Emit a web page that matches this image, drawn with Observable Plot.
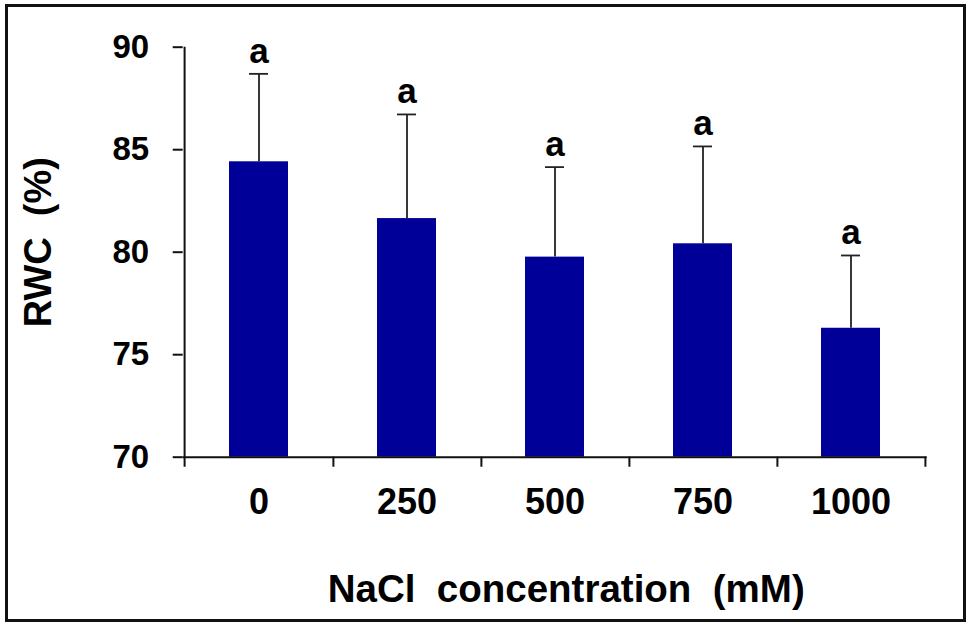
<!DOCTYPE html>
<html>
<head>
<meta charset="utf-8">
<script src="https://cdn.jsdelivr.net/npm/d3@7"></script>
<script src="https://cdn.jsdelivr.net/npm/@observablehq/plot@0.6"></script>
<style>
  html, body { margin: 0; padding: 0; background: #fff; }
  #wrap { position: relative; width: 976px; height: 630px; overflow: hidden; }
  #wrap svg { position: absolute; left: 0; top: 0; }
  #wrap svg text { white-space: pre; }
  #frame { position: absolute; left: 5px; top: 4px; width: 955px; height: 612px; border: 3px solid #111; pointer-events: none; }
</style>
</head>
<body>
<div id="wrap"><div id="frame"></div></div>
<script>
const categories = ["0", "250", "500", "750", "1000"];
const means = [84.41, 81.64, 79.76, 80.41, 76.29];
const errors = [4.29, 5.08, 4.39, 4.75, 3.55];
const letters = ["a", "a", "a", "a", "a"];
const yTicks = [70, 75, 80, 85, 90];
const xTitle = "NaCl  concentration  (mM)";
const yTitle = "RWC  (%)";

const data = categories.map((c, i) => ({cat: c, mean: means[i], sd: errors[i], top: means[i] + errors[i], letter: letters[i]}));

const W = 976, H = 630;
const mL = 182.7, mR = 49.3, mT = 46.7, mB = 173.3;
const step = (W - mL - mR) / categories.length;
const pad = 0.603;
const font = "Liberation Sans, Arial, sans-serif";
const barColor = "#000099";

const chart = Plot.plot({
  width: W,
  height: H,
  marginLeft: mL,
  marginRight: mR,
  marginTop: mT,
  marginBottom: mB,
  style: {fontFamily: font, background: "transparent", color: "#000"},
  x: {domain: categories, paddingInner: pad, paddingOuter: pad / 2, axis: null},
  y: {domain: [70, 90], axis: null},
  marks: [
    Plot.barY(data, {x: "cat", y1: 70, y2: "mean", fill: barColor}),
    Plot.ruleX(data, {x: "cat", y1: "mean", y2: "top", stroke: "#222", strokeWidth: 1.8}),
    Plot.tickY(data, {x: "cat", y: "top", stroke: "#222", strokeWidth: 1.8, insetLeft: 20, insetRight: 20}),
    Plot.text(data, {x: "cat", y: "top", text: "letter", dy: -11, lineAnchor: "bottom", fontSize: 35, fontWeight: "bold", fill: "#000"}),
    // axes lines
    Plot.ruleY([70], {stroke: "#111", strokeWidth: 2}),
    Plot.ruleX([categories[0]], {x: d => d, y1: 69.51, y2: 90, dx: -step / 2, stroke: "#111", strokeWidth: 2}),
    // x boundary ticks
    Plot.ruleX(categories, {x: d => d, y1: 69.51, y2: 70, dx: step / 2, stroke: "#111", strokeWidth: 2}),
    // y ticks and labels
    Plot.axisY(yTicks, {tickSize: 10, tickPadding: 24, fontSize: 33, fontWeight: "bold", strokeWidth: 2, stroke: "#111", fill: "#000", label: null}),
    Plot.axisX({tickSize: 0, tickPadding: 31, fontSize: 36, fontWeight: "bold", fill: "#000", label: null}),
    Plot.text([xTitle], {frameAnchor: "bottom", text: d => d, dy: 145, dx: 11, textAnchor: "middle", lineAnchor: "bottom", fontSize: 38.5, fontWeight: "bold", fill: "#000"}),
    Plot.text([yTitle], {frameAnchor: "left", text: d => d, dx: -132.7, dy: -10, rotate: -90, textAnchor: "middle", lineAnchor: "bottom", fontSize: 38, fontWeight: "bold", fill: "#000"})
  ]
});
document.getElementById("wrap").prepend(chart);
</script>
</body>
</html>
